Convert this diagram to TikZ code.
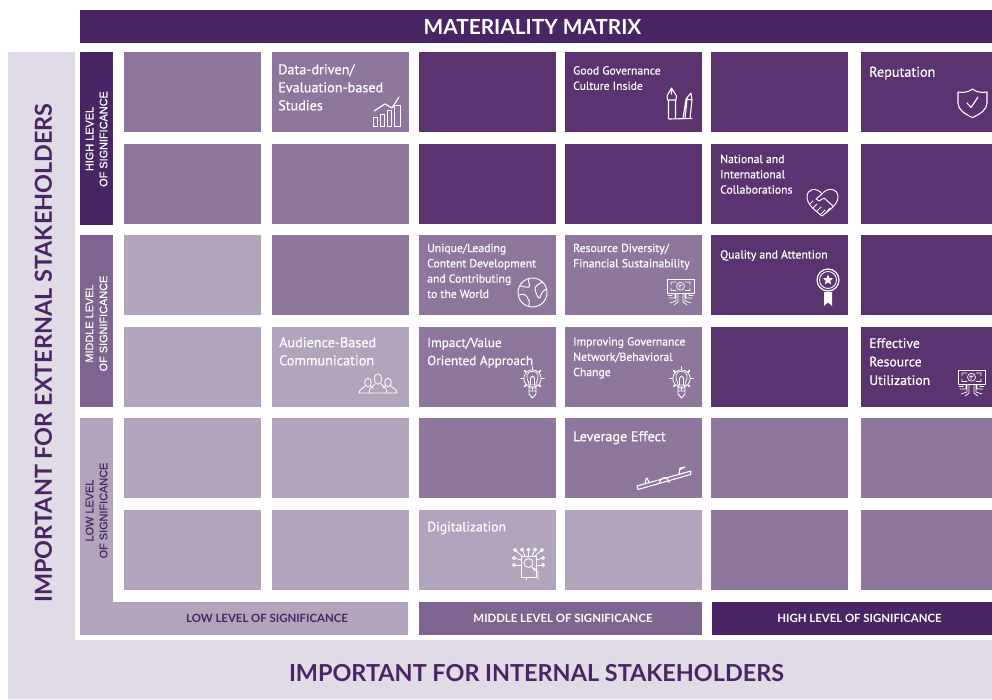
\documentclass[tikz,border=0pt]{standalone}
\usepackage{fontspec}
\setmainfont{PT Sans}
\newfontfamily\cellfont{PT Sans}[FakeBold=0.5]
\newfontfamily\titlefont{Lato}
\newfontfamily\arialfont{Liberation Sans}[FakeBold=0.5]
\usetikzlibrary{shapes.geometric}
\definecolor{darkcell}{HTML}{5A3370}
\definecolor{midcell}{HTML}{8E769D}
\definecolor{lightcell}{HTML}{B2A4BD}
\definecolor{headbar}{HTML}{4A2566}
\definecolor{midbar}{HTML}{7F648F}
\definecolor{pale}{HTML}{E0DBE6}
\tikzset{
 cell/.style={anchor=north west,inner sep=0pt,outer sep=0pt,minimum width=137pt,minimum height=80pt,draw=none},
 wide/.style={minimum width=131pt},
 dk/.style={cell,fill=darkcell},
 md/.style={cell,fill=midcell},
 lt/.style={cell,fill=lightcell},
 celltext/.style={anchor=north west,inner sep=0pt,align=left,text=white},
 big/.style={celltext,font=\cellfont\fontsize{14.2}{18}\selectfont},
 small/.style={celltext,font=\cellfont\fontsize{11.7}{15.3}\selectfont},
 sidelabel/.style={inner sep=0pt,align=center,rotate=90,text=white,font=\arialfont\fontsize{10.9}{14}\selectfont},
 botlabel/.style={inner sep=0pt,font=\titlefont\bfseries\fontsize{11.4}{12}\selectfont},
 bar/.style={anchor=north west,inner sep=0pt,outer sep=0pt},
 axis/.style={inner sep=0pt,text=headbar,font=\titlefont\bfseries\fontsize{23.4}{26}\selectfont},
 ic/.style={draw=white,line width=.95pt,line cap=round,line join=round},
 pics/chart/.style={code={
  \draw[ic] (1,20) rectangle (5,29) (8,17) rectangle (12,29) (15,13) rectangle (19,29) (22,8) rectangle (28,29);
  \draw[ic,line width=1.2pt] (2,14)--(13,7)--(20,11)--(27,0);}},
 pics/shield/.style={code={
  \draw[ic,line width=1.1pt] (0,3)..controls (6,4) and (11,3)..(14.5,0)..controls (18,3) and (23,4)..(29,3)
   --(29,14)..controls (29,21) and (22,25)..(14.5,28.5)..controls (7,25) and (0,21)..(0,14)--cycle;
  \draw[ic,line width=1.1pt] (9,14)--(13,18.5)--(20,8);}},
 pics/pens/.style={code={
  \draw[ic,line width=1.1pt] (11.5,3)--(7,11)--(7.5,15)--(16,15)--(16.5,11)--(11.5,3)--(11.5,9)
    (8.5,15)--(8.5,33.5) (15.5,15)--(15.5,33.5);
  \draw[ic,line width=1.1pt] (31,8)--(26,14)--(23,33.5) (31,8)--(32,15)--(30,33.5) (26,14)--(32,15) (27,15)--(25,33.5);
  \draw[ic,line width=1.1pt] (9,34)--(32,33.5);}},
 pics/heart/.style={code={
  \draw[ic] (15,6)..controls (10,-1) and (0,0)..(0,9)..controls (0,17) and (9,23)..(15,28)..controls (21,23) and (31,17)..(31,9)..controls (31,0) and (20,-1)..(15,6);
  \draw[ic] (15,6)--(9,11)--(12,13)--(17,10)--(26,18);
  \draw[ic] (3,16)--(6,13) (6,20)--(10,16) (10,23)--(14,19) (14,26)--(18,22) (19,25)--(23,20);}},
 pics/globe/.style={code={
  \draw[ic] (14.5,14.5) circle (14.5);
  \draw[ic] (2,8)..controls (6,8) and (7,10)..(11,9)..controls (13,7) and (9,4)..(11,1);
  \draw[ic] (1,17)..controls (5,15) and (9,17)..(10,21)..controls (13,24) and (10,27)..(11,28.5);
  \draw[ic] (24,4)..controls (20,7) and (16,8)..(17,12)..controls (19,17) and (20,21)..(22,20)..controls (23,16) and (24,13)..(28.5,11);}},
 pics/money/.style={code={
  \draw[ic,line width=.7pt] (0,0) rectangle (27,14.5);
  \draw[ic,line width=.7pt] (13.5,7.2) circle (4) (9,3)--(4,3)--(4,6) (18,3)--(23,3)--(23,6) (9,11.5)--(4,11.5)--(4,9) (18,11.5)--(23,11.5)--(23,9);
  \draw[ic,line width=.7pt] (13,5)--(13,9.5) (11.5,7)--(15.5,6);
  \draw[ic,line width=.7pt] (11,14.5)--(11,23)--(7,26) (16,14.5)--(16,23)--(20,26) (8,14.5)--(8,19)--(2,19) (19,14.5)--(19,19)--(25,19) (5,14.5)--(5,16.5)--(1,16.5) (22,14.5)--(22,16.5)--(26,16.5) (9,14.5)--(9,22)--(3,24) (18,14.5)--(18,22)--(24,24);}},
 pics/bulb/.style={code={
  \draw[ic,line width=.8pt] (11.5,11.5) circle (8.7);
  \foreach \a in {0,45,...,315} \draw[ic,line width=1.7pt] (11.5,11.5)+(\a:9)--+(\a:11.5);
  \draw[ic,line width=.75pt] (8,18)..controls (8,14) and (5,12)..(6,8)..controls (7,3) and (16,3)..(17,8)..controls (18,12) and (15,14)..(15,18)--cycle;
  \draw[ic,line width=.75pt] (9.5,18)--(9.5,11)--(11.5,9)--(13.5,11)--(13.5,18);
  \draw[ic,line width=.95pt] (8,18)--(8,27)--(11.5,31)--(15,27)--(15,18) (8,21)--(15,21) (8,24)--(15,24);}},
 pics/medal/.style={code={
  \draw[ic,line width=1.2pt,dash pattern=on 3.2pt off .5pt] (12,12) circle (11);
  \draw[ic,line width=.9pt] (12,12) circle (8.5);
  \node[star,star points=5,star point ratio=2.4,fill=white,inner sep=0pt,minimum size=11pt] (starmark) at (12,12) {};
  \fill[white] (8,24)--(16,24)--(16,38)--(12,34.5)--(8,38)--cycle;}},
 pics/people/.style={code={
  \draw[ic,line width=.85pt] (19,6) ellipse (3.8 and 5.2) (9,9.5) ellipse (3.3 and 4.2) (29,9.5) ellipse (3.3 and 4.2);
  \draw[ic,line width=.85pt] (10,20)..controls (10,14) and (15,13)..(16,11) (22,11)..controls (23,13) and (28,14)..(28,20);
  \draw[ic,line width=.85pt] (0,20)..controls (0,16) and (5,15)..(6,13) (12,13.5)--(14,15) (26,13.5)--(24,15) (32,13)..controls (33,15) and (38,16)..(38,20) (0,20)--(38,20);}},
 pics/seesaw/.style={code={
  \draw[ic,line width=1.1pt] (0,21)--(54,6)--(53.5,9.5)--(1,24.5)--cycle;
  \draw[ic,line width=1.1pt] (8,18.8)--(9,14)--(10,13)--(12,17.2) (42,9)--(43,3)--(48,2)--(43,4.5);
  \draw[ic,line width=1.1pt] (22.5,17.6) arc (180:360:4.8 and 5) ;}},
 pics/digi/.style={code={
  \draw[ic,line width=.8pt] (8,29)--(8,8)--(23,8)--(23,29)--(8,29);
  \draw[ic,line width=.8pt] (15.5,15) circle (4.5) (18.5,18.5)--(22,23);
  \draw[ic,line width=.8pt] (21,20)--(25,24)--(25,32);
  \draw[ic,line width=.8pt] (13,29)--(13,32);
  \foreach \x/\y/\u/\v in {2/2/9/8,9/1.5/12/8,15.5/1.5/15.5/8,22/1.5/19/8,29/2/22/8,1/10/8/12,30/10/23/12,1/17/8/17,30/17/23/17}{
   \draw[ic,line width=.8pt] (\x,\y) circle (1.5);
   \draw[ic,line width=.8pt] (\x,\y)--(\u,\v);}}}
}
\begin{document}
\begin{tikzpicture}[x=1pt,y=-1pt]
\useasboundingbox (0,0) rectangle (992,699);
% axis backgrounds
\fill[pale] (8,52)--(75,52)--(75,640)--(992,640)--(992,699)--(8,699)--cycle;
\node[bar,fill=headbar,minimum width=912pt,minimum height=33pt] (titlebar) at (80,10) {};
\node[inner sep=0pt,text=white,font=\titlefont\bfseries\fontsize{20.8}{24}\selectfont] (title) at (532.5,27) {MATERIALITY MATRIX};
\node[axis,rotate=90] (axisext) at (43.5,353) {IMPORTANT FOR EXTERNAL STAKEHOLDERS};
\node[axis] (axisint) at (536.5,673) {IMPORTANT FOR INTERNAL STAKEHOLDERS};
% side bands
\node[bar,fill=headbar,minimum width=33pt,minimum height=173pt] (sidehigh) at (80,52) {};
\node[bar,fill=midbar,minimum width=33pt,minimum height=172pt] (sidemid) at (80,235) {};
\fill[lightcell] (80,418)--(113,418)--(113,602)--(408,602)--(408,635)--(80,635)--cycle;
\node[sidelabel] (lblhigh) at (96.5,139) {HIGH LEVEL\\OF SIGNIFICANCE};
\node[sidelabel] (lblmid) at (96.5,323.5) {MIDDLE LEVEL\\OF SIGNIFICANCE};
\node[sidelabel,text=headbar] (lbllow) at (96.5,510.5) {LOW LEVEL\\OF SIGNIFICANCE};
\node[bar,fill=midbar,minimum width=283pt,minimum height=33pt] (botmidbar) at (419,602) {};
\node[bar,fill=headbar,minimum width=280pt,minimum height=33pt] (bothighbar) at (712,602) {};
\node[botlabel,text=headbar] (botlow) at (267,618) {LOW LEVEL OF SIGNIFICANCE};
\node[botlabel,text=white] (botmid) at (563,618) {MIDDLE LEVEL OF SIGNIFICANCE};
\node[botlabel,text=white] (bothigh) at (859.5,618) {HIGH LEVEL OF SIGNIFICANCE};
% row 1
\node[md] (a1) at (124,52) {}; \node[md] (a2) at (272,52) {}; \node[dk] (a3) at (419,52) {}; \node[dk] (a4) at (565,52) {}; \node[dk] (a5) at (711,52) {}; \node[dk,wide] (a6) at (861,52) {};
% row 2
\node[md] (b1) at (124,144) {}; \node[md] (b2) at (272,144) {}; \node[dk] (b3) at (419,144) {}; \node[dk] (b4) at (565,144) {}; \node[dk] (b5) at (711,144) {}; \node[dk,wide] (b6) at (861,144) {};
% row 3
\node[lt] (c1) at (124,235) {}; \node[md] (c2) at (272,235) {}; \node[md] (c3) at (419,235) {}; \node[md] (c4) at (565,235) {}; \node[dk] (c5) at (711,235) {}; \node[dk,wide] (c6) at (861,235) {};
% row 4
\node[lt] (d1) at (124,327) {}; \node[lt] (d2) at (272,327) {}; \node[md] (d3) at (419,327) {}; \node[md] (d4) at (565,327) {}; \node[dk] (d5) at (711,327) {}; \node[dk,wide] (d6) at (861,327) {};
% row 5
\node[lt] (e1) at (124,418) {}; \node[lt] (e2) at (272,418) {}; \node[md] (e3) at (419,418) {}; \node[md] (e4) at (565,418) {}; \node[md] (e5) at (711,418) {}; \node[md,wide] (e6) at (861,418) {};
% row 6
\node[lt] (f1) at (124,510) {}; \node[lt] (f2) at (272,510) {}; \node[lt] (f3) at (419,510) {}; \node[lt] (f4) at (565,510) {}; \node[md] (f5) at (711,510) {}; \node[md,wide] (f6) at (861,510) {};
% texts
\node[big] (ta2) at (278,64) {Data-driven/\\Evaluation-based\\Studies};
\node[small] (ta4) at (573,66) {Good Governance\\Culture Inside};
\node[big] (ta6) at (869,66.5) {Reputation};
\node[small] (tb5) at (720,154.5) {National and\\International\\Collaborations};
\node[small] (tc3) at (427,243.5) {Unique/Leading\\Content Development\\and Contributing\\to the World};
\node[small] (tc4) at (573,243.5) {Resource Diversity/\\Financial Sustainability};
\node[small] (tc5) at (720,250) {Quality and Attention};
\node[big] (td2) at (279,337) {Audience-Based\\Communication};
\node[big,font=\cellfont\fontsize{13.2}{18}\selectfont] (td3) at (427,337.5) {Impact/Value\\Oriented Approach};
\node[small] (td4) at (573,337) {Improving Governance\\Network/Behavioral\\Change};
\node[big,font=\cellfont\fontsize{13.7}{18.5}\selectfont] (td6) at (869,338) {Effective\\Resource\\Utilization};
\node[big] (te4) at (573,431) {Leverage Effect};
\node[big,font=\cellfont\fontsize{13.7}{18}\selectfont] (tf3) at (427,521.5) {Digitalization};
% icons
\pic at (372,97) {chart};
\pic at (660,85) {pens};
\pic at (958,89) {shield};
\pic at (807,188) {heart};
\pic at (518,278) {globe};
\pic at (667,279) {money};
\pic at (816,268) {medal};
\pic at (359,373) {people};
\pic at (521,367) {bulb};
\pic at (670,367) {bulb};
\pic at (958,370) {money};
\pic at (637,465) {seesaw};
\pic at (513,548) {digi};
\end{tikzpicture}
\end{document}
